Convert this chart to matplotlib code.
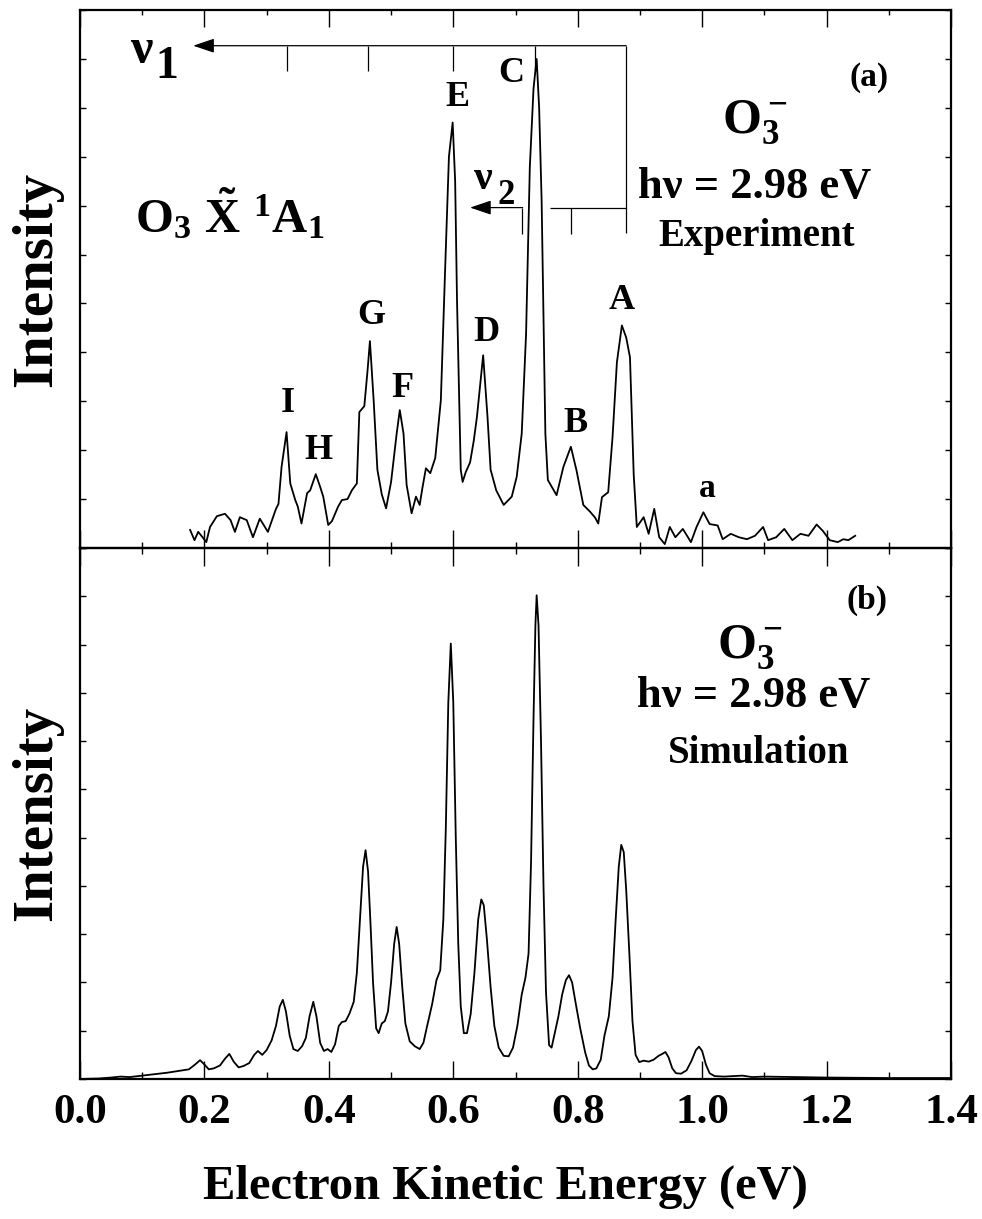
import matplotlib
matplotlib.use("Agg")
import matplotlib.pyplot as plt
from matplotlib.ticker import MultipleLocator, NullFormatter

# ---------------- data ----------------
# Experimental spectrum (eV, intensity in tick units)
exp_ev = [0.177, 0.184, 0.190, 0.197, 0.203, 0.209, 0.220, 0.233, 0.242, 0.249,
          0.257, 0.268, 0.278, 0.289, 0.302, 0.315, 0.319, 0.324, 0.332, 0.338,
          0.346, 0.350, 0.356, 0.365, 0.370, 0.379, 0.386, 0.391, 0.399, 0.405,
          0.415, 0.421, 0.430, 0.437, 0.445, 0.449, 0.457, 0.462, 0.466, 0.472,
          0.478, 0.485, 0.492, 0.500, 0.506, 0.509, 0.514, 0.520, 0.525, 0.533,
          0.540, 0.546, 0.550, 0.556, 0.563, 0.571, 0.580, 0.587, 0.593, 0.599,
          0.603, 0.606, 0.612, 0.615, 0.620, 0.627, 0.633, 0.638, 0.648, 0.655,
          0.660, 0.669, 0.681, 0.694, 0.702, 0.710, 0.717, 0.723, 0.729, 0.734,
          0.738, 0.742, 0.748, 0.752, 0.766, 0.777, 0.789, 0.794, 0.798, 0.809,
          0.820, 0.828, 0.833, 0.839, 0.849, 0.856, 0.863, 0.871, 0.878, 0.884,
          0.890, 0.895, 0.906, 0.914, 0.923, 0.931, 0.940, 0.948, 0.957, 0.969,
          0.982, 0.991, 1.002, 1.012, 1.025, 1.033, 1.046, 1.059, 1.072, 1.085,
          1.098, 1.106, 1.119, 1.132, 1.145, 1.158, 1.171, 1.184, 1.194, 1.205,
          1.218, 1.227, 1.235, 1.246]
exp_int = [0.37, 0.16, 0.33, 0.22, 0.12, 0.43, 0.65, 0.70, 0.57, 0.33,
           0.63, 0.57, 0.22, 0.60, 0.33, 0.80, 0.90, 1.66, 2.37, 1.32,
           0.98, 0.85, 0.50, 1.12, 1.18, 1.51, 1.25, 1.05, 0.47, 0.55,
           0.85, 0.98, 1.00, 1.18, 1.32, 2.78, 2.90, 3.60, 4.23, 3.02,
           1.60, 1.10, 0.81, 1.35, 2.00, 2.34, 2.82, 2.34, 1.29, 0.71,
           1.05, 0.88, 1.20, 1.63, 1.53, 1.84, 3.02, 5.74, 8.00, 8.70,
           7.50, 5.06, 1.60, 1.35, 1.55, 1.75, 2.20, 2.68, 3.94, 2.68,
           1.60, 1.18, 0.88, 1.05, 1.46, 2.34, 4.38, 7.78, 9.40, 10.00,
           9.00, 7.10, 2.34, 1.39, 1.08, 1.66, 2.07, 1.80, 1.59, 0.88,
           0.74, 0.62, 0.50, 1.04, 1.14, 2.27, 3.80, 4.55, 4.30, 3.90,
           1.50, 0.43, 0.63, 0.29, 0.80, 0.22, 0.08, 0.43, 0.22, 0.39,
           0.12, 0.43, 0.73, 0.49, 0.46, 0.18, 0.29, 0.22, 0.18, 0.25,
           0.43, 0.16, 0.22, 0.39, 0.16, 0.29, 0.25, 0.48, 0.35, 0.16,
           0.12, 0.18, 0.16, 0.25]

# Simulated spectrum (eV, intensity in tick units)
sim_ev = [0.000, 0.030, 0.050, 0.065, 0.080, 0.100, 0.120, 0.140, 0.160, 0.175,
          0.185, 0.193, 0.200, 0.207, 0.215, 0.225, 0.233, 0.240, 0.247, 0.255,
          0.263, 0.272, 0.280, 0.286, 0.293, 0.300, 0.308, 0.315, 0.321, 0.326,
          0.331, 0.337, 0.343, 0.350, 0.357, 0.363, 0.369, 0.375, 0.380, 0.386,
          0.392, 0.398, 0.404, 0.410, 0.416, 0.421, 0.427, 0.433, 0.440, 0.445,
          0.450, 0.455, 0.459, 0.463, 0.467, 0.471, 0.476, 0.480, 0.485, 0.490,
          0.495, 0.500, 0.505, 0.509, 0.513, 0.518, 0.523, 0.530, 0.538, 0.546,
          0.552, 0.558, 0.566, 0.573, 0.579, 0.584, 0.588, 0.592, 0.596, 0.600,
          0.604, 0.608, 0.612, 0.617, 0.622, 0.628, 0.634, 0.640, 0.645, 0.649,
          0.654, 0.660, 0.666, 0.673, 0.681, 0.689, 0.696, 0.703, 0.710, 0.716,
          0.721, 0.725, 0.729, 0.732, 0.734, 0.737, 0.741, 0.745, 0.749, 0.754,
          0.758, 0.763, 0.769, 0.775, 0.781, 0.786, 0.791, 0.797, 0.804, 0.812,
          0.818, 0.824, 0.830, 0.837, 0.843, 0.850, 0.856, 0.861, 0.866, 0.870,
          0.874, 0.878, 0.883, 0.888, 0.893, 0.899, 0.906, 0.914, 0.922, 0.930,
          0.936, 0.941, 0.946, 0.952, 0.958, 0.966, 0.975, 0.983, 0.990, 0.995,
          1.000, 1.006, 1.012, 1.020, 1.035, 1.050, 1.065, 1.080, 1.100, 1.150,
          1.200, 1.300, 1.400]
sim_int = [0.00, 0.01, 0.03, 0.05, 0.04, 0.07, 0.10, 0.13, 0.17, 0.20,
           0.30, 0.39, 0.30, 0.20, 0.22, 0.28, 0.42, 0.52, 0.36, 0.24,
           0.27, 0.33, 0.50, 0.58, 0.50, 0.60, 0.80, 1.10, 1.50, 1.64,
           1.40, 0.90, 0.62, 0.58, 0.68, 0.85, 1.30, 1.60, 1.30, 0.75,
           0.58, 0.62, 0.56, 0.72, 1.10, 1.18, 1.20, 1.35, 1.60, 2.20,
           3.30, 4.40, 4.74, 4.30, 3.20, 2.00, 1.05, 0.95, 1.15, 1.20,
           1.40, 2.00, 2.80, 3.15, 2.80, 1.90, 1.15, 0.78, 0.68, 0.62,
           0.75, 1.10, 1.55, 2.05, 2.25, 3.30, 5.20, 7.80, 9.02, 7.80,
           5.00, 2.80, 1.50, 0.95, 0.95, 1.35, 2.20, 3.30, 3.72, 3.60,
           2.90, 1.90, 1.10, 0.65, 0.48, 0.47, 0.65, 1.10, 1.75, 2.10,
           2.60, 4.50, 7.50, 9.40, 10.02, 9.40, 7.00, 4.00, 1.80, 0.70,
           0.65, 0.95, 1.30, 1.75, 2.05, 2.15, 2.00, 1.55, 1.05, 0.55,
           0.28, 0.20, 0.22, 0.40, 0.90, 1.30, 2.10, 3.30, 4.40, 4.85,
           4.70, 3.90, 2.60, 1.20, 0.50, 0.35, 0.38, 0.36, 0.40, 0.48,
           0.52, 0.56, 0.45, 0.22, 0.12, 0.11, 0.18, 0.38, 0.60, 0.67,
           0.58, 0.30, 0.12, 0.06, 0.05, 0.06, 0.07, 0.04, 0.05, 0.04,
           0.03, 0.02, 0.02]

peak_labels = ["I", "H", "G", "F", "E", "D", "C", "B", "A", "a"]
peak_label_ev = [0.334, 0.384, 0.468, 0.518, 0.606, 0.653, 0.693, 0.796, 0.871, 1.008]
peak_label_y = [2.96, 2.00, 4.76, 3.27, 9.22, 4.41, 9.71, 2.55, 5.06, 1.22]

nu1_ticks_ev = [0.332, 0.4625, 0.599, 0.731]
nu2_ticks_ev = [0.710, 0.789]
origin_ev = 0.878

xticks_major = [0.0, 0.2, 0.4, 0.6, 0.8, 1.0, 1.2, 1.4]
xtick_labels = ["0.0", "0.2", "0.4", "0.6", "0.8", "1.0", "1.2", "1.4"]

# ---------------- styling ----------------
SERIF = "Liberation Serif"
plt.rcParams.update({
    "font.family": SERIF,
    "font.weight": "bold",
    "mathtext.fontset": "custom",
    "mathtext.rm": "Liberation Serif:bold",
    "mathtext.it": "Liberation Serif:bold",
    "mathtext.bf": "Liberation Serif:bold",
    "mathtext.sf": "Liberation Serif:bold",
    "axes.linewidth": 1.6,
})

W, H = 982, 1219
fig = plt.figure(figsize=(W / 100, H / 100), dpi=100)

L, R = 80, 951
top_t, mid, bot = 10, 548, 1079
ax1 = fig.add_axes([L / W, 1 - mid / H, (R - L) / W, (mid - top_t) / H])
ax2 = fig.add_axes([L / W, 1 - bot / H, (R - L) / W, (bot - mid) / H])
for ax in (ax1, ax2):
    ax.set_facecolor("none")
    ax.set_xlim(0.0, 1.4)
    ax.set_ylim(0, 11)
    ax.yaxis.set_major_locator(MultipleLocator(1))
    ax.yaxis.set_major_formatter(NullFormatter())
    ax.tick_params(axis="y", which="both", direction="in", left=True, right=True,
                   length=4.5, width=1.0, labelleft=False)
    ax.xaxis.set_major_locator(MultipleLocator(0.2))
    ax.xaxis.set_minor_locator(MultipleLocator(0.1))

ax1.set_zorder(3)
ax2.set_zorder(2)

# top panel: inout ticks on the shared middle line
ax1.tick_params(axis="x", which="major", direction="inout", length=26, width=1.0,
                top=False, bottom=True, labelbottom=False)
ax1.tick_params(axis="x", which="minor", direction="inout", length=8.5, width=1.0,
                top=False, bottom=True)
sec = ax1.secondary_xaxis("top")
sec.xaxis.set_major_locator(MultipleLocator(0.2))
sec.xaxis.set_minor_locator(MultipleLocator(0.1))
sec.tick_params(axis="x", which="major", direction="in", length=12, width=1.0, labeltop=False)
sec.tick_params(axis="x", which="minor", direction="in", length=3.6, width=1.0)
sec.spines["top"].set_visible(False)

ax2.tick_params(axis="x", which="major", direction="in", length=13, width=1.0,
                top=False, bottom=True, pad=11, labelsize=31)
ax2.tick_params(axis="x", which="minor", direction="in", length=5, width=1.0,
                top=False, bottom=True)
ax2.set_xticks(xticks_major)
ax2.set_xticklabels(xtick_labels, fontweight="bold", family=SERIF)

# curves
ax1.plot(exp_ev, exp_int, color="black", lw=1.3)
ax2.plot(sim_ev, sim_int, color="black", lw=1.3)

# y labels
for ax in (ax1, ax2):
    ax.set_ylabel("Intensity", fontsize=41, fontweight="bold", family=SERIF)
    ax.yaxis.set_label_coords(-0.0195, 0.5)

# x label
fig.text(505 / W, 1 - 1199 / H, "Electron Kinetic Energy (eV)", ha="center",
         va="baseline", fontsize=35, fontweight="bold", family=SERIF)

# peak labels
for lab, x, y in zip(peak_labels, peak_label_ev, peak_label_y):
    ax1.text(x, y, lab, ha="center", va="center", fontsize=26 if lab != "a" else 24,
             fontweight="bold", family=SERIF)

# nu1 progression
y_nu1 = 10.27
ax1.annotate("", xy=(0.182, y_nu1), xytext=(origin_ev, y_nu1),
             arrowprops=dict(arrowstyle="-|>,head_length=0.65,head_width=0.22",
                             color="black", lw=0.9, shrinkA=0, shrinkB=0,
                             mutation_scale=20))
ax1.vlines(nu1_ticks_ev, 9.76, y_nu1, color="black", lw=0.9)
ax1.vlines([origin_ev], 6.45, y_nu1, color="black", lw=0.9)
ax1.text(0.0804, 9.92, "ν", ha="left", va="baseline", fontsize=36, family=SERIF,
         fontweight="bold")
ax1.text(0.1215, 9.61, "1", ha="left", va="baseline", fontsize=33, family=SERIF,
         fontweight="bold")

# nu2 progression
y_nu2 = 6.96
ax1.annotate("", xy=(0.627, y_nu2), xytext=(0.7115, y_nu2),
             arrowprops=dict(arrowstyle="-|>,head_length=0.65,head_width=0.22",
                             color="black", lw=0.9, shrinkA=0, shrinkB=0,
                             mutation_scale=20))
ax1.hlines(y_nu2, 0.756, origin_ev, color="black", lw=0.9)
ax1.vlines(nu2_ticks_ev, 6.43, y_nu2, color="black", lw=0.9)
ax1.text(0.6334, 7.35, "ν", ha="left", va="baseline", fontsize=30, family=SERIF,
         fontweight="bold")
ax1.text(0.6705, 7.04, "2", ha="left", va="baseline", fontsize=25, family=SERIF,
         fontweight="bold")

# state label
ax1.text(0.088, 6.45, r"$\mathrm{O_3\ \tilde{X}\ {}^1A_1}$", ha="left", va="baseline",
         fontsize=35)

# panel annotations
ax1.text(1.268, 9.61, "(a)", ha="center", va="center", fontsize=24, family=SERIF,
         fontweight="bold")
ax1.text(1.085, 8.49, r"$\mathrm{O_3^-}$", ha="center", va="baseline", fontsize=36)
ax1.text(1.085, 7.16, "hν = 2.98 eV", ha="center", va="baseline", fontsize=32,
         family=SERIF, fontweight="bold")
ax1.text(1.087, 6.18, "Experiment", ha="center", va="baseline", fontsize=28,
         family=SERIF, fontweight="bold")

ax2.text(1.265, 9.92, "(b)", ha="center", va="center", fontsize=24, family=SERIF,
         fontweight="bold")
ax2.text(1.077, 8.74, r"$\mathrm{O_3^-}$", ha="center", va="baseline", fontsize=36)
ax2.text(1.082, 7.70, "hν = 2.98 eV", ha="center", va="baseline", fontsize=32,
         family=SERIF, fontweight="bold")
ax2.text(1.09, 6.54, "Simulation", ha="center", va="baseline", fontsize=28,
         family=SERIF, fontweight="bold")

fig.savefig("out.png", dpi=100)
